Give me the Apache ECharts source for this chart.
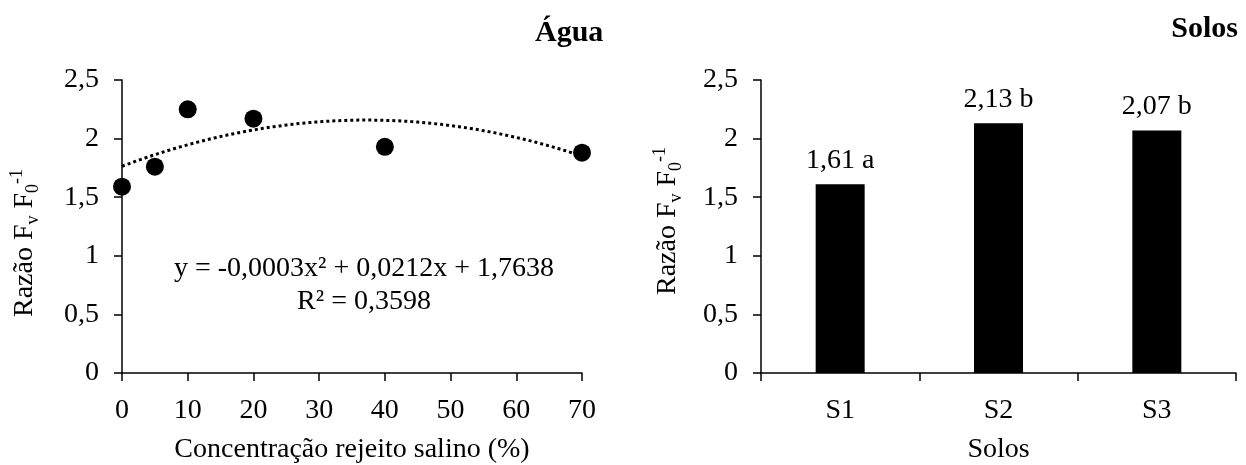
<!DOCTYPE html>
<html>
<head>
<meta charset="utf-8">
<script src="https://cdn.jsdelivr.net/npm/echarts@6/dist/echarts.min.js"></script>
<style>
  html, body { margin: 0; padding: 0; background: #fff; }
  #chart { width: 1246px; height: 465px; }
</style>
</head>
<body>
<div id="chart"></div>
<script>
// Left panel: Fv/F0 ratio against saline reject concentration
const concentration = [0, 5, 10, 20, 40, 70];
const ratioWater = [1.59, 1.76, 2.25, 2.17, 1.93, 1.88];
// Quadratic trend y = c + b*x + a*x^2 (label shows rounded values)
const trendCoef = { c: 1.7638, b: 0.0212, a: -0.000285 };
const trendLabel = 'y = -0,0003x² + 0,0212x + 1,7638\nR² = 0,3598';

// Right panel: mean ratio per soil
const soils = ['S1', 'S2', 'S3'];
const ratioSoil = [1.61, 2.13, 2.07];
const soilLetters = ['a', 'b', 'b'];

const yTicks = { min: 0, max: 2.5, interval: 0.5 };

const FONT = '"Liberation Serif", "Times New Roman", serif';
const decimal = v => String(v).replace('.', ',');

const trendData = [];
for (let x = 0; x <= 70; x += 0.5) {
  trendData.push([x, trendCoef.c + trendCoef.b * x + trendCoef.a * x * x]);
}

const axisLine = { show: true, lineStyle: { color: '#000', width: 1.5 } };
const axisTick = { show: true, length: 8, inside: false, lineStyle: { color: '#000', width: 1.5 } };
const labelStyle = { color: '#000', fontFamily: FONT, fontSize: 28 };

const nameRich = {
  n: { fontFamily: FONT, fontSize: 28, color: '#000', lineHeight: 34 },
  sub: { fontFamily: FONT, fontSize: 18, color: '#000', lineHeight: 18, verticalAlign: 'bottom' },
  sup: { fontFamily: FONT, fontSize: 18, color: '#000', lineHeight: 18, verticalAlign: 'top' }
};
const nameText = '{n|Razão F}{sub|v}{n| F}{sub|0}{sup|-1}';

const chart = echarts.init(document.getElementById('chart'), null, { renderer: 'canvas' });

chart.setOption({
  backgroundColor: '#fff',
  animation: false,
  title: [
    { text: 'Água', left: 535, top: 18, padding: 0,
      textStyle: { fontFamily: FONT, fontSize: 30, fontWeight: 'bold', color: '#000' } },
    { text: 'Solos', right: 8, top: 14, padding: 0,
      textStyle: { fontFamily: FONT, fontSize: 30, fontWeight: 'bold', color: '#000' } }
  ],
  grid: [
    { left: 122, right: 664, top: 80, bottom: 92, outerBoundsMode: 'none', containLabel: false },
    { left: 761, right: 10, top: 80, bottom: 92, outerBoundsMode: 'none', containLabel: false }
  ],
  xAxis: [
    {
      gridIndex: 0, type: 'value', min: 0, max: 70, interval: 10,
      axisLine, axisTick, splitLine: { show: false },
      axisLabel: { ...labelStyle, margin: 24 },
      name: 'Concentração rejeito salino (%)', nameLocation: 'middle', nameGap: 63,
      nameTextStyle: { ...labelStyle }
    },
    {
      gridIndex: 1, type: 'category', data: soils,
      axisLine, axisTick: { ...axisTick, alignWithLabel: false },
      axisLabel: { ...labelStyle, margin: 24 },
      name: 'Solos', nameLocation: 'middle', nameGap: 63,
      nameTextStyle: { ...labelStyle }
    }
  ],
  yAxis: [
    {
      gridIndex: 0, type: 'value', ...yTicks,
      axisLine, axisTick, splitLine: { show: false },
      axisLabel: { ...labelStyle, margin: 23, formatter: decimal }
    },
    {
      gridIndex: 1, type: 'value', ...yTicks,
      axisLine, axisTick, splitLine: { show: false },
      axisLabel: { ...labelStyle, margin: 23, formatter: decimal }
    }
  ],
  graphic: [
    {
      type: 'text', x: 25, y: 243, rotation: Math.PI / 2,
      style: { text: nameText, rich: nameRich, align: 'center', verticalAlign: 'middle' }
    },
    {
      type: 'text', x: 668, y: 221, rotation: Math.PI / 2,
      style: { text: nameText, rich: nameRich, align: 'center', verticalAlign: 'middle' }
    },
    {
      type: 'text', x: 364, y: 285,
      style: {
        text: trendLabel, fontFamily: FONT, fontSize: 28, lineHeight: 33,
        fill: '#000', align: 'center', verticalAlign: 'middle'
      }
    }
  ],
  series: [
    {
      type: 'line', xAxisIndex: 0, yAxisIndex: 0, data: trendData,
      showSymbol: false, silent: true, z: 1,
      lineStyle: { color: '#000', width: 3, type: [3, 3], cap: 'butt' }
    },
    {
      type: 'scatter', xAxisIndex: 0, yAxisIndex: 0,
      data: concentration.map((x, i) => [x, ratioWater[i]]),
      symbol: 'circle', symbolSize: 18, z: 3,
      itemStyle: { color: '#000', opacity: 1 }
    },
    {
      type: 'bar', xAxisIndex: 1, yAxisIndex: 1, data: ratioSoil,
      barWidth: 49,
      itemStyle: { color: '#000' },
      label: {
        show: true, position: 'top', distance: 10,
        ...labelStyle,
        formatter: p => decimal(p.value.toFixed(2)) + ' ' + soilLetters[p.dataIndex]
      }
    }
  ]
});
</script>
</body>
</html>
